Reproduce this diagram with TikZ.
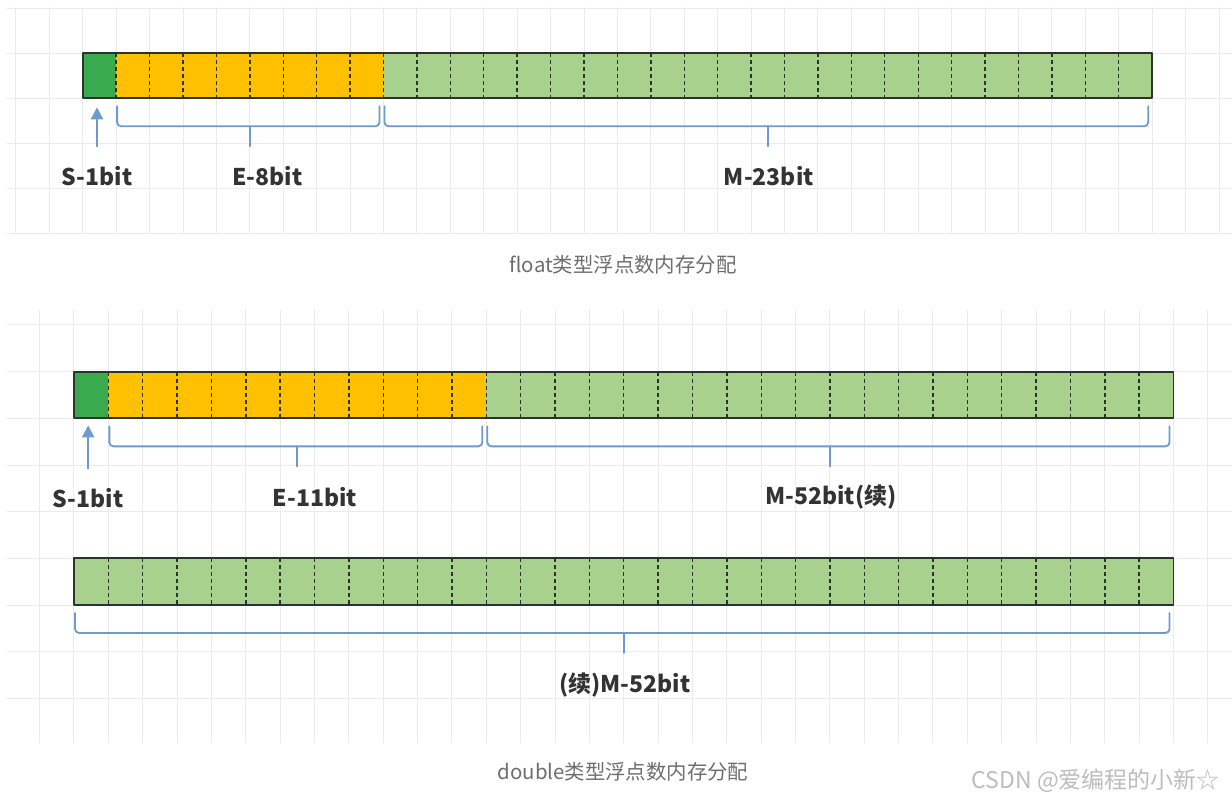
\documentclass[tikz,border=0pt]{standalone}
\usepackage{fontspec}
\setmainfont{Noto Sans CJK SC}
\usetikzlibrary{positioning,arrows.meta,calc}
\definecolor{signgreen}{HTML}{3AAA4F}
\definecolor{expgold}{HTML}{FFC000}
\definecolor{mantgreen}{HTML}{A9D18E}
\definecolor{braceblue}{HTML}{6E9BCD}
\definecolor{gridgray}{HTML}{EBEBEB}
\definecolor{framedark}{HTML}{2B332B}
\definecolor{labeldark}{HTML}{333333}
\definecolor{captiongray}{HTML}{6E6E6E}
\definecolor{markgray}{HTML}{BDBDBD}
\tikzset{
  every picture/.style={line join=round, line cap=round, >=Stealth},
  gridline/.style={draw=gridgray, line width=0.5pt},
  field/.style={inner sep=0pt, outer sep=0pt, minimum height=#1, anchor=west},
  cellsep/.style={draw=framedark, line width=0.7pt, dash pattern=on 2pt off 1.5pt, line cap=butt},
  barframe/.style={draw=framedark, line width=0.9pt},
  brace/.style={draw=braceblue, line width=0.9pt, rounded corners=2pt},
  signarrow/.style={draw=braceblue, line width=1pt, -{Triangle[width=6pt,length=6pt]}},
  bitlabel/.style={font=\bfseries\fontsize{11.5}{13}\selectfont, text=labeldark},
  caption/.style={font=\fontsize{10.2}{12}\selectfont, text=captiongray},
  watermark/.style={font=\fontsize{11.5}{13}\selectfont, text=markgray, anchor=east},
}
\begin{document}
\begin{tikzpicture}[x=0.5pt,y=-0.5pt]
\useasboundingbox[fill=white](0,0) rectangle (1232,801);
% background grid, float part
\foreach \k in {0,...,36}
  \draw[gridline](15.9+\k*33.42,8)--(15.9+\k*33.42,233);
\foreach \j in {0,...,5}
  \draw[gridline](7,8.3+\j*45)--(1232,8.3+\j*45);
% background grid, double part
\foreach \k in {0,...,34}
  \draw[gridline](39.6+\k*34.36,310)--(39.6+\k*34.36,743);
\foreach \j in {0,...,8}
  \draw[gridline](7,325+\j*46.67)--(1232,325+\j*46.67);

% float: 1 + 8 + 23
\node[field=22.5pt, fill=signgreen, minimum width=16.71pt, anchor=north west] (fs) at (82.7,53.3) {};
\node[field=22.5pt, fill=expgold, minimum width=8*16.71pt] (fe) at (fs.east) {};
\node[field=22.5pt, fill=mantgreen, minimum width=23*16.71pt] (fm) at (fe.east) {};
\foreach \i in {1,...,31}
  \draw[cellsep]($(fs.north west)+(\i*33.42,0)$)--($(fs.south west)+(\i*33.42,0)$);
\draw[barframe](fs.north west) rectangle (fm.south east);

% double: 1 + 11 + 20, then the rest of the mantissa
\node[field=23.33pt, fill=signgreen, minimum width=17.18pt, anchor=north west] (ds) at (74,371.7) {};
\node[field=23.33pt, fill=expgold, minimum width=11*17.18pt] (de) at (ds.east) {};
\node[field=23.33pt, fill=mantgreen, minimum width=20*17.18pt] (dm) at (de.east) {};
\foreach \i in {1,...,31}
  \draw[cellsep]($(ds.north west)+(\i*34.36,0)$)--($(ds.south west)+(\i*34.36,0)$);
\draw[barframe](ds.north west) rectangle (dm.south east);

\node[field=23.33pt, fill=mantgreen, minimum width=32*17.18pt, anchor=north west] (dr) at (74,558.3) {};
\foreach \i in {0,...,31}
  \draw[cellsep]($(dr.north west)+(\i*34.36,0)$)--($(dr.south west)+(\i*34.36,0)$);
\draw[barframe](dr.north west) rectangle (dr.south east);

% brackets under the fields
\foreach \f in {fe,fm,de,dm,dr}{
  \coordinate (\f-l) at ([xshift=0.5pt,yshift=-4pt]\f.south west);
  \coordinate (\f-r) at ([xshift=-2pt,yshift=-4pt]\f.south east);
  \coordinate (\f-mid) at ([yshift=-14pt]\f.south);
  \coordinate (\f-tip) at ([yshift=-24pt]\f.south);
  \draw[brace](\f-l) |- (\f-mid) -| (\f-r);
  \draw[brace](\f-mid)--(\f-tip);
}

% sign bit arrows
\coordinate (fs-head) at ([xshift=-1.2pt,yshift=-4.5pt]fs.south);
\coordinate (fs-tail) at ([xshift=-1.2pt,yshift=-24pt]fs.south);
\coordinate (ds-head) at ([xshift=-1.5pt,yshift=-3.5pt]ds.south);
\coordinate (ds-tail) at ([xshift=-1.5pt,yshift=-25pt]ds.south);
\draw[signarrow](fs-tail)--(fs-head);
\draw[signarrow](ds-tail)--(ds-head);

% labels
\node[bitlabel] (fs-lab) at ([yshift=-15pt]fs-tail) {S-1bit};
\node[bitlabel] (fe-lab) at ([xshift=8.75pt,yshift=-15pt]fe-tip) {E-8bit};
\node[bitlabel] (fm-lab) at ([xshift=0.5pt,yshift=-15pt]fm-tip) {M-23bit};
\node[bitlabel] (ds-lab) at ([yshift=-15pt]ds-tail) {S-1bit};
\node[bitlabel] (de-lab) at ([xshift=8.75pt,yshift=-15.5pt]de-tip) {E-11bit};
\node[bitlabel] (dm-lab) at ([xshift=0.5pt,yshift=-15.5pt]dm-tip) {M-52bit(续)};
\node[bitlabel] (dr-lab) at ([xshift=0.5pt,yshift=-16pt]dr-tip) {(续)M-52bit};

\node[caption] (fcap) at (623,265) {float类型浮点数内存分配};
\node[caption] (dcap) at (623,772) {double类型浮点数内存分配};
\node[watermark] (mark) at (1227,781) {CSDN @爱编程的小新☆};
\end{tikzpicture}
\end{document}
